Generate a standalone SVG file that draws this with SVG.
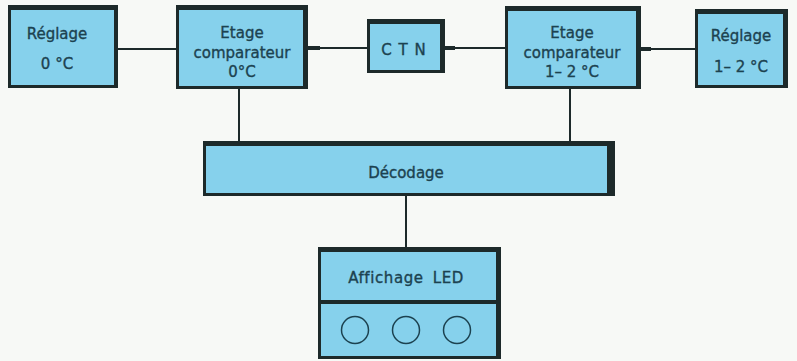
<svg xmlns="http://www.w3.org/2000/svg" width="797" height="361" viewBox="0 0 797 361">
<style>
.bg{fill:#f7f9f6}
.frame{fill:#1d2a2a}
.fill{fill:#86d1ec}
.t{font-family:"DejaVu Sans","Liberation Sans",sans-serif;font-size:15px;fill:#1c4250;stroke:#1c4250;stroke-width:0.35;text-anchor:middle}
.ln{stroke:#1d2a2a;stroke-width:2;fill:none}
.stub{stroke:#1d2a2a;stroke-width:4;fill:none}
.led{fill:none;stroke:#1c4250;stroke-width:1.5}
</style>
<rect class="bg" x="0" y="0" width="797" height="361"/>
<g id="connectors">
<line class="ln" x1="118" y1="49" x2="176" y2="49"/>
<line class="ln" x1="308" y1="48" x2="367" y2="48"/>
<line class="stub" x1="308" y1="48" x2="320" y2="48"/>
<line class="ln" x1="445" y1="48" x2="505" y2="48"/>
<line class="stub" x1="445" y1="48" x2="455" y2="48"/>
<line class="ln" x1="641" y1="49" x2="695" y2="49"/>
<line class="stub" x1="641" y1="49" x2="651" y2="49"/>
<line class="ln" x1="239" y1="89" x2="239" y2="142"/>
<line class="ln" x1="570" y1="89" x2="570" y2="142"/>
<line class="ln" x1="406" y1="196" x2="406" y2="247"/>
</g>
<g id="reglage0">
<rect class="frame" x="8" y="5" width="110" height="83"/>
<rect class="fill" x="11" y="10" width="103" height="75"/>
<text class="t" x="57" y="39">Réglage</text>
<text class="t" x="57" y="69">0 °C</text>
</g>
<g id="comparateur0">
<rect class="frame" x="176" y="5" width="132" height="84"/>
<rect class="fill" x="179" y="10" width="124" height="76"/>
<text class="t" x="242" y="38">Etage</text>
<text class="t" x="242" y="58">comparateur</text>
<text class="t" x="242" y="77">0°C</text>
</g>
<g id="ctn">
<rect class="frame" x="367" y="19" width="78" height="54"/>
<rect class="fill" x="370" y="24" width="70" height="46"/>
<text class="t" x="404" y="55" style="letter-spacing:1px">C T N</text>
</g>
<g id="comparateur12">
<rect class="frame" x="505" y="6" width="136" height="83"/>
<rect class="fill" x="508" y="11" width="128" height="75"/>
<text class="t" x="572" y="38">Etage</text>
<text class="t" x="572" y="58">comparateur</text>
<text class="t" x="572" y="77">1– 2 °C</text>
</g>
<g id="reglage12">
<rect class="frame" x="695" y="9" width="93" height="79"/>
<rect class="fill" x="698" y="14" width="85" height="71"/>
<text class="t" x="741" y="41">Réglage</text>
<text class="t" x="741" y="72">1– 2 °C</text>
</g>
<g id="decodage">
<rect class="frame" x="203" y="141" width="412" height="55"/>
<rect class="fill" x="206" y="146" width="401" height="47"/>
<text class="t" x="406" y="178">Décodage</text>
</g>
<g id="affichage">
<rect class="frame" x="318" y="247" width="183" height="112"/>
<rect class="fill" x="321" y="252" width="175" height="48"/>
<rect class="fill" x="321" y="304" width="175" height="52"/>
<text class="t" x="406" y="283" style="letter-spacing:0.6px">Affichage<tspan dx="9">LED</tspan></text>
<circle class="led" cx="355" cy="330" r="13.5"/>
<circle class="led" cx="406" cy="330" r="13.5"/>
<circle class="led" cx="457" cy="330" r="13.5"/>
</g>
</svg>
